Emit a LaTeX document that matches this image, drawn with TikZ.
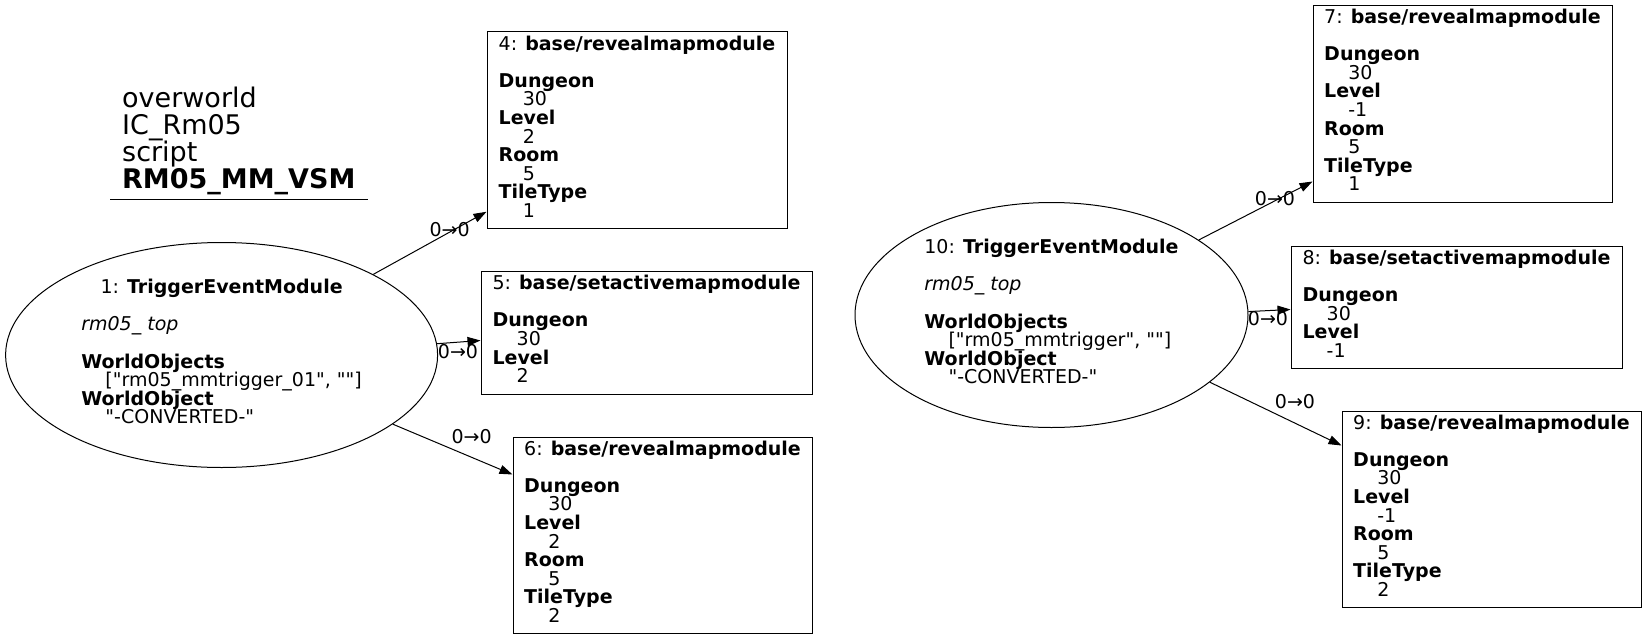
\documentclass[tikz,border=0pt]{standalone}
\usepackage{fontspec}
\usepackage{array}
\setmainfont{DejaVu Sans}
\usetikzlibrary{arrows.meta,shapes.geometric}
\newcommand\gvfont{\fontsize{19}{18.6}\selectfont}
\newcommand\ttlfont{\fontsize{27}{27}\selectfont}
\newcommand\ind{\hspace*{1.27em}}
\newcommand\q{\textquotedbl}
% rows keep the baselineskip, whatever the glyph heights
\newcolumntype{L}{@{}>{\setbox0=\hbox\bgroup}l<{\egroup\ht0=0pt\dp0=0pt\box0}@{}}
\newcolumntype{C}{@{}>{\setbox0=\hbox\bgroup}c<{\egroup\ht0=0pt\dp0=0pt\box0}@{}}
\tikzset{
  module/.style={draw, line width=1pt, rectangle, inner sep=0pt, font=\gvfont},
  trigger/.style={draw, line width=1pt, ellipse, inner sep=0pt, font=\gvfont},
  flow/.style={line width=1pt, -{Triangle[length=13pt,width=9pt]}},
  lbl/.style={font=\gvfont, inner sep=0pt},
}
\begin{document}
\begin{tikzpicture}[x=1pt, y=-1pt]
    \useasboundingbox (0,0) rectangle (1647,640); % keep the page size
    % title
    \node[font=\ttlfont, inner xsep=12pt, inner ysep=2pt, anchor=south west] (ttl) at (110,199)
      {\begin{tabular}{L}overworld\\IC\_Rm05\\script\\\textbf{RM05\_MM\_VSM}\end{tabular}};
    \draw[line width=1pt] (ttl.south west) -- (ttl.south east);
    % triggers
    \node[trigger, minimum width=432pt, minimum height=225pt] (e1) at (221.6,355)
      {\begin{tabular}{L}\multicolumn{1}{C}{1: \textbf{TriggerEventModule}}\\ \\
       \textit{rm05\_ top}\\ \\ \textbf{WorldObjects}\\ \ind[\q rm05\_mmtrigger\_01\q, \q\q]\\
       \textbf{WorldObject}\\ \ind\q-CONVERTED-\q\end{tabular}};
    \node[trigger, minimum width=393pt, minimum height=225pt] (e10) at (1051.5,315)
      {\begin{tabular}{L}\multicolumn{1}{C}{10: \textbf{TriggerEventModule}}\\ \\
       \textit{rm05\_ top}\\ \\ \textbf{WorldObjects}\\ \ind[\q rm05\_mmtrigger\q, \q\q]\\
       \textbf{WorldObject}\\ \ind\q-CONVERTED-\q\end{tabular}};
    % modules
    \node[module, minimum width=300pt, minimum height=196.5pt] (b4) at (637,130)
      {\begin{tabular}{L}4: \textbf{base/revealmapmodule}\\ \\ \textbf{Dungeon}\\ \ind 30\\
       \textbf{Level}\\ \ind 2\\ \textbf{Room}\\ \ind 5\\ \textbf{TileType}\\ \ind 1\end{tabular}};
    \node[module, minimum width=331pt, minimum height=123pt] (b5) at (646.5,332.5)
      {\begin{tabular}{L}5: \textbf{base/setactivemapmodule}\\ \\ \textbf{Dungeon}\\ \ind 30\\
       \textbf{Level}\\ \ind 2\end{tabular}};
    \node[module, minimum width=299pt, minimum height=196pt] (b6) at (662.5,535)
      {\begin{tabular}{L}6: \textbf{base/revealmapmodule}\\ \\ \textbf{Dungeon}\\ \ind 30\\
       \textbf{Level}\\ \ind 2\\ \textbf{Room}\\ \ind 5\\ \textbf{TileType}\\ \ind 2\end{tabular}};
    \node[module, minimum width=299pt, minimum height=197pt] (b7) at (1462.5,103.5)
      {\begin{tabular}{L}7: \textbf{base/revealmapmodule}\\ \\ \textbf{Dungeon}\\ \ind 30\\
       \textbf{Level}\\ \ind -1\\ \textbf{Room}\\ \ind 5\\ \textbf{TileType}\\ \ind 1\end{tabular}};
    \node[module, minimum width=331pt, minimum height=122pt] (b8) at (1456.5,307)
      {\begin{tabular}{L}8: \textbf{base/setactivemapmodule}\\ \\ \textbf{Dungeon}\\ \ind 30\\
       \textbf{Level}\\ \ind -1\end{tabular}};
    \node[module, minimum width=299pt, minimum height=196pt] (b9) at (1491.5,509)
      {\begin{tabular}{L}9: \textbf{base/revealmapmodule}\\ \\ \textbf{Dungeon}\\ \ind 30\\
       \textbf{Level}\\ \ind -1\\ \textbf{Room}\\ \ind 5\\ \textbf{TileType}\\ \ind 2\end{tabular}};
    % connectors
    \foreach \src/\ang/\dst/\up in {e1/28.6/b4/17, e1/3.06/b5/54, e1/-22/b6/159,
        e10/27.3/b7/21, e10/1.2/b8/59, e10/-23.9/b9/162}
      { \draw[flow] (\src.\ang) -- ([yshift=\up pt]\dst.south west); }
    \foreach \n/\x/\y in {l4/449.6/230, l5/458/352, l6/471.6/437, l7/1275/198.5, l8/1268/319, l9/1295/402}
      { \node[lbl] (\n) at (\x,\y) {0→0}; }
  \end{tikzpicture}
\end{document}
